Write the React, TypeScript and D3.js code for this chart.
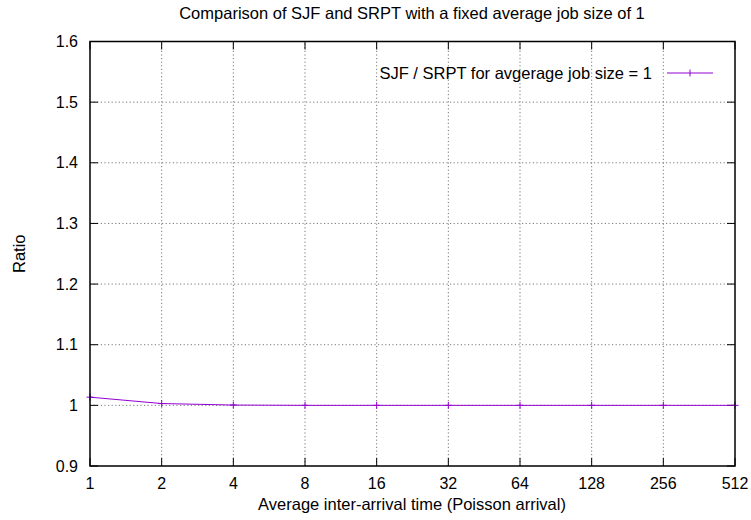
import React from "react";
import * as d3 from "d3";

const interArrival = [1, 2, 4, 8, 16, 32, 64, 128, 256, 512];
const sjfOverSrpt = [1.0135, 1.003, 1.0005, 1.0, 1.0, 1.0, 1.0, 1.0, 1.0, 1.0];
const yTicks = [0.9, 1.0, 1.1, 1.2, 1.3, 1.4, 1.5, 1.6];
const xTicks = interArrival;

const W = 751;
const H = 520;
const margin = { left: 90, right: 16, top: 41.5, bottom: 54 };
const font = "'Liberation Sans', Arial, Helvetica, sans-serif";
const lineColor = "#9400d3";

export default function App() {
  const x = d3
    .scaleLog()
    .base(2)
    .domain([1, 512])
    .range([margin.left, W - margin.right]);
  const y = d3
    .scaleLinear()
    .domain([0.9, 1.6])
    .range([H - margin.bottom, margin.top]);

  const line = d3
    .line<number>()
    .x((_, i) => x(interArrival[i]))
    .y((d) => y(d));

  const x0 = margin.left;
  const x1 = W - margin.right;
  const y0 = H - margin.bottom;
  const y1 = margin.top;
  const tickLen = 8;
  const fmtY = (v: number) => (Math.abs(v - 1) < 1e-9 ? "1" : d3.format(".1f")(v));

  const legendY = 73;
  const legendLineX0 = 667;
  const legendLineX1 = 713;

  return (
    <svg
      width={W}
      height={H}
      style={{ position: "absolute", left: 0, top: 0, background: "#fff" }}
      fontFamily={font}
    >
      <rect width={W} height={H} fill="#fff" />
      {/* grid */}
      <g stroke="#555" strokeWidth={0.8} strokeDasharray="1.2,2.4">
        {yTicks
          .filter((v) => v > 0.9 && v < 1.6)
          .map((v) => (
            <line key={"gy" + v} x1={x0} x2={x1} y1={y(v)} y2={y(v)} />
          ))}
        {xTicks
          .filter((v) => v > 1 && v < 512)
          .map((v) => (
            <line key={"gx" + v} x1={x(v)} x2={x(v)} y1={y0} y2={y1} />
          ))}
      </g>
      {/* ticks, mirrored on all four sides */}
      <g stroke="#000" strokeWidth={1}>
        {yTicks.map((v) => (
          <g key={"ty" + v}>
            <line x1={x0} x2={x0 + tickLen} y1={y(v)} y2={y(v)} />
            <line x1={x1} x2={x1 - tickLen} y1={y(v)} y2={y(v)} />
          </g>
        ))}
        {xTicks.map((v) => (
          <g key={"tx" + v}>
            <line x1={x(v)} x2={x(v)} y1={y0} y2={y0 - tickLen} />
            <line x1={x(v)} x2={x(v)} y1={y1} y2={y1 + tickLen} />
          </g>
        ))}
      </g>
      {/* tick labels */}
      <g fontSize={16} fill="#000">
        {yTicks.map((v) => (
          <text key={"ly" + v} x={x0 - 12} y={y(v) + 5.5} textAnchor="end">
            {fmtY(v)}
          </text>
        ))}
        {xTicks.map((v) => (
          <text key={"lx" + v} x={x(v)} y={y0 + 23} textAnchor="middle">
            {v}
          </text>
        ))}
      </g>
      {/* series */}
      <path d={line(sjfOverSrpt) ?? ""} fill="none" stroke={lineColor} strokeWidth={1} />
      <g stroke={lineColor} strokeWidth={1}>
        {sjfOverSrpt.map((v, i) => (
          <g key={"pt" + i}>
            <line x1={x(interArrival[i]) - 3.5} x2={x(interArrival[i]) + 3.5} y1={y(v)} y2={y(v)} />
            <line x1={x(interArrival[i])} x2={x(interArrival[i])} y1={y(v) - 3.5} y2={y(v) + 3.5} />
          </g>
        ))}
      </g>
      {/* legend */}
      <text x={652} y={legendY + 6} fontSize={16.5} textAnchor="end" fill="#000">
        SJF / SRPT for avgerage job size = 1
      </text>
      <g stroke={lineColor} strokeWidth={1}>
        <line x1={legendLineX0} x2={legendLineX1} y1={legendY} y2={legendY} />
        <line
          x1={(legendLineX0 + legendLineX1) / 2}
          x2={(legendLineX0 + legendLineX1) / 2}
          y1={legendY - 3.5}
          y2={legendY + 3.5}
        />
      </g>
      {/* border */}
      <rect
        x={x0}
        y={y1}
        width={x1 - x0}
        height={y0 - y1}
        fill="none"
        stroke="#000"
        strokeWidth={1.5}
      />
      {/* titles */}
      <text x={412} y={19} fontSize={16.5} textAnchor="middle" fill="#000">
        Comparison of SJF and SRPT with a fixed average job size of 1
      </text>
      <text x={412} y={510} fontSize={16.5} textAnchor="middle" fill="#000">
        Average inter-arrival time (Poisson arrival)
      </text>
      <text
        transform={`translate(25,${(y0 + y1) / 2}) rotate(-90)`}
        fontSize={16.5}
        textAnchor="middle"
        fill="#000"
      >
        Ratio
      </text>
    </svg>
  );
}
